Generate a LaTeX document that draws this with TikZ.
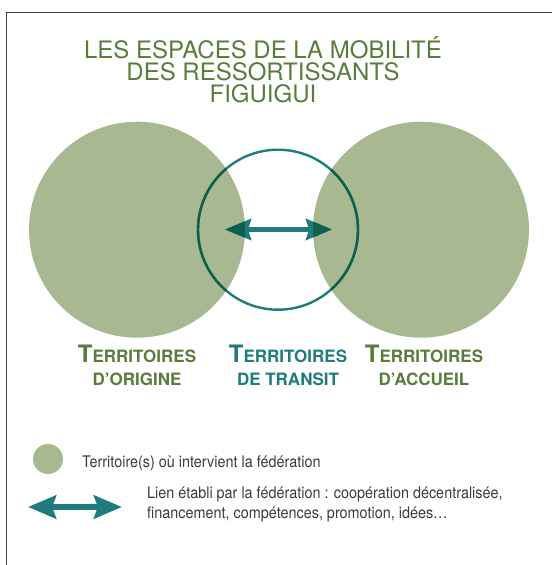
\documentclass[tikz,border=0pt]{standalone}
\usepackage{fontspec}
\setmainfont{TeX Gyre Heros}
\newfontfamily\condfont[FakeStretch=0.9]{TeX Gyre Heros}
\usetikzlibrary{arrows.meta}
\definecolor{sage}{RGB}{168,184,144}
\definecolor{olive}{RGB}{90,124,58}
\definecolor{transitteal}{RGB}{31,123,124}
\definecolor{darkteal}{RGB}{14,96,78}
\definecolor{legendgray}{RGB}{58,58,58}
\tikzset{territory/.style={circle,fill=sage,inner sep=0pt,minimum size=216pt}}
\tikzset{transit/.style={circle,draw=transitteal,line width=2.4pt,inner sep=0pt,minimum size=160pt}}
\tikzset{link/.style={transitteal,line width=5pt,{Stealth[length=26pt,width=21pt,inset=3pt]}-{Stealth[length=26pt,width=21pt,inset=3pt]}}}
\tikzset{label/.style={anchor=base,align=center,inner sep=0pt,font=\bfseries\fontsize{17}{23}\selectfont}}
\tikzset{legend/.style={anchor=base west,align=left,inner sep=0pt,text=legendgray,font=\condfont\fontsize{16}{20}\selectfont}}
\newcommand{\bigT}{{\fontsize{24}{23}\selectfont T}}

\begin{document}
\begin{tikzpicture}
[x=1pt, y=-1pt]
\useasboundingbox (0,0) rectangle (552,565);
\draw[line width=1.5pt,draw=black!75] (6.5,565) -- (6.5,12.5) -- (552,12.5);

\node (title) at (263,102)[anchor=base,align=center,inner sep=0pt,text=olive,font=\fontsize{24}{22}\selectfont]
  {LES ESPACES DE LA MOBILITÉ\\DES RESSORTISSANTS\\FIGUIGUI};

\node (origine) at (137,229.7)[territory]{};
\node (accueil) at (421,229.7)[territory]{};
\node (transit) at (278,229.7)[transit]{};
\coordinate (tipl) at (225,229.5);
\coordinate (tipr) at (332,229.5);
\draw[link] (tipl) -- (tipr);
\begin{scope}
  \clip (origine.center) circle (108) (accueil.center) circle (108);
  \draw[darkteal,line width=2.4pt] (transit.center) circle (80);
  \draw[link,darkteal] (tipl) -- (tipr);
\end{scope}

\node (torigine) at (137,385)[label,text=olive]{\bigT ERRITOIRES\\D’ORIGINE};
\node (ttransit) at (288,385)[label,text=transitteal]{\bigT ERRITOIRES\\DE TRANSIT};
\node (taccueil) at (424,385)[label,text=olive]{\bigT ERRITOIRES\\D’ACCUEIL};

\node (legcircle) at (48,459)[territory,minimum size=30pt]{};
\node (legterr) at (82,467)[legend]{Territoire(s) où intervient la fédération};
\coordinate (legl) at (28,507);
\coordinate (legr) at (122,507);
\draw[transitteal,line width=6pt,{Stealth[length=28pt,width=23pt,inset=4pt]}-{Stealth[length=28pt,width=23pt,inset=4pt]}] (legl) -- (legr);
\node (leglien) at (147,518)[legend]{Lien établi par la fédération : coopération décentralisée,\\financement, compétences, promotion, idées…};
\end{tikzpicture}
\end{document}
